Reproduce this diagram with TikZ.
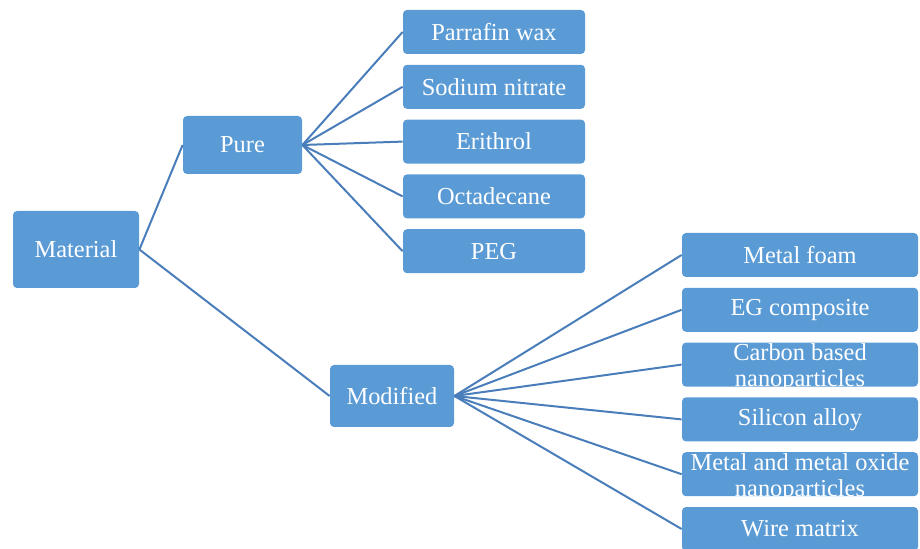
\documentclass[tikz,border=0pt]{standalone}
\usepackage{fontspec}
\setmainfont{Liberation Serif}
\usetikzlibrary{positioning}
\definecolor{boxblue}{RGB}{91,155,213}
\definecolor{lineblue}{RGB}{74,126,187}

\begin{document}
\begin{tikzpicture}[
    x=0.5pt, y=-0.5pt,
    node distance=5pt,
    box/.style={rounded corners=2pt, fill=boxblue, text=white, align=center, inner sep=0pt, font=\fontsize{12.2}{12.8}\selectfont},
    pureleaf/.style={box, minimum width=91pt, minimum height=22pt},
    modleaf/.style={box, minimum width=118pt, minimum height=22pt},
    twoline/.style={text height=22pt, text depth=0pt},
    link/.style={draw=lineblue, line width=1pt}
  ]
  \useasboundingbox (0,0) rectangle (920,549);
  \node[box, minimum width=63pt, minimum height=38.5pt] (material) at (76,249.5) {Material};
  \node[box, minimum width=59.5pt, minimum height=29pt] (pure) at (242.5,145) {Pure};
  \node[box, minimum width=62pt, minimum height=31pt] (modified) at (392,396) {Modified};
  % pure materials
  \node[pureleaf] (wax) at (494,32) {Parrafin wax};
  \node[pureleaf, below=of wax] (nitrate) {Sodium nitrate};
  \node[pureleaf, below=of nitrate] (erithrol) {Erithrol};
  \node[pureleaf, below=of erithrol] (octadecane) {Octadecane};
  \node[pureleaf, below=of octadecane] (peg) {PEG};
  % modified materials
  \node[modleaf] (foam) at (800,255) {Metal foam};
  \node[modleaf, below=of foam] (eg) {EG composite};
  \node[modleaf, twoline, below=of eg] (carbon) {Carbon based\\nanoparticles};
  \node[modleaf, below=of carbon] (silicon) {Silicon alloy};
  \node[modleaf, twoline, below=of silicon] (oxide) {Metal and metal oxide\\nanoparticles};
  \node[modleaf, below=of oxide] (wire) {Wire matrix};
  % branches
  \draw[link] (material.east) -- (pure.west);
  \draw[link] (material.east) -- (modified.west);
  \draw[link] (pure.east) -- (wax.west);
  \draw[link] (pure.east) -- (nitrate.west);
  \draw[link] (pure.east) -- (erithrol.west);
  \draw[link] (pure.east) -- (octadecane.west);
  \draw[link] (pure.east) -- (peg.west);
  \draw[link] (modified.east) -- (foam.west);
  \draw[link] (modified.east) -- (eg.west);
  \draw[link] (modified.east) -- (carbon.west);
  \draw[link] (modified.east) -- (silicon.west);
  \draw[link] (modified.east) -- (oxide.west);
  \draw[link] (modified.east) -- (wire.west);
\end{tikzpicture}
\end{document}
